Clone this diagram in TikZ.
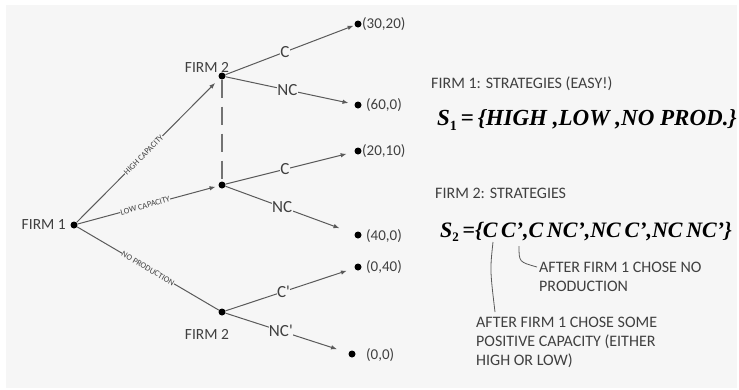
\documentclass[tikz,border=0pt]{standalone}
\usepackage{fontspec}
\setmainfont{Carlito}
\newfontfamily\eqfont{Liberation Serif}
\usetikzlibrary{arrows.meta}
\definecolor{bg}{HTML}{F6F6F6}
\definecolor{ln}{HTML}{5A5A5A}
\definecolor{tx}{HTML}{404040}
\tikzset{
  dotnode/.style={circle,fill=black,inner sep=0pt,minimum size=7pt},
  move/.style={draw=ln,line width=1pt,-{Latex[length=6pt,width=4.5pt]}},
  plain/.style={draw=ln,line width=1pt},
  mlabel/.style={fill=bg,inner sep=0.3pt,font=\fontsize{17}{17}\selectfont,text=tx},
  slabel/.style={fill=bg,inner sep=0.3pt,sloped,font=\fontsize{8.4}{8.4}\selectfont,text=tx},
  firm/.style={font=\fontsize{15.5}{15.5}\selectfont,text=tx},
  head/.style={font=\fontsize{16}{16}\selectfont,text=tx,anchor=west,inner sep=0pt},
  pay/.style={font=\fontsize{15}{15}\selectfont,text=tx,anchor=west,inner sep=0pt},
  note/.style={font=\fontsize{16}{19}\selectfont,text=tx,align=left,inner sep=0pt},
  eq/.style={font=\eqfont\bfseries\itshape\fontsize{#1}{#1}\selectfont,text=black,anchor=west,inner sep=0pt}
}
\begin{document}
\begin{tikzpicture}[x=1pt,y=-1pt]
\useasboundingbox (0,0) rectangle (739,389);
\fill[white] (0,0) rectangle (739,389);
\fill[bg] (6,5) rectangle (737,388);
% decision nodes
\node[dotnode] (f1) at (74,225) {};
\node[dotnode] (f2a) at (222,76) {};
\node[dotnode] (f2b) at (222,185) {};
\node[dotnode] (f2c) at (222,312) {};
% terminal nodes
\node[dotnode] (t1) at (358,24) {};
\node[dotnode] (t2) at (358,105) {};
\node[dotnode] (t3) at (358,151) {};
\node[dotnode] (t4) at (358,235) {};
\node[dotnode] (t5) at (358,267) {};
\node[dotnode] (t6) at (352,354) {};
\node[pay] (p1) at (362,24) {(30,20)};
\node[pay] (p2) at (366,105) {(60,0)};
\node[pay] (p3) at (362,151) {(20,10)};
\node[pay] (p4) at (366,236) {(40,0)};
\node[pay] (p5) at (366,267) {(0,40)};
\node[pay] (p6) at (366,355) {(0,0)};
% firm labels
\node[firm,anchor=east,inner sep=0pt] (l1) at (66,225) {FIRM 1};
\node[firm] (l2) at (207,67) {FIRM 2};
\node[firm] (l3) at (207,334) {FIRM 2};
% information set
\draw[ln!85,line width=1.2pt,dash pattern=on 18pt off 9pt] (f2a) -- (f2b);
% firm 1 moves
\draw[move,shorten >=6pt] (f1) -- node[slabel,pos=0.47] {HIGH CAPACITY} (f2a);
\draw[move,shorten >=3pt] (f1) -- node[slabel,pos=0.48] {LOW CAPACITY} (f2b);
\draw[plain] (f1) -- node[slabel,pos=0.5] {NO PRODUCTION} (f2c);
% firm 2 moves
\draw[move,shorten >=1pt] (f2a) -- node[mlabel,pos=0.46] {C} (t1);
\draw[move,shorten >=6pt] (f2a) -- node[mlabel,pos=0.48] {NC} (t2);
\draw[move,shorten >=8pt] (f2b) -- node[mlabel,pos=0.46] {C} (t3);
\draw[move,shorten >=16pt] (f2b) -- node[mlabel,pos=0.44] {NC} (t4);
\draw[move,shorten >=8pt] (f2c) -- node[mlabel,pos=0.45] {C\textquotesingle} (t5);
\draw[move,shorten >=12pt] (f2c) -- node[mlabel,pos=0.45] {NC\textquotesingle} (t6);
% right side
\node[head] (h1) at (431,84) {FIRM 1: STRATEGIES (EASY!)};
\node[eq=23] (e1) at (437,120) {S\raisebox{-0.2em}{\upshape\fontsize{14}{14}\selectfont 1}\,{\upshape =}\,\{HIGH ,LOW ,NO PROD.\}};
\node[head] (h2) at (435,193) {FIRM 2: STRATEGIES};
\node[eq=22] (e2) at (440,232) {S\raisebox{-0.2em}{\upshape\fontsize{13}{13}\selectfont 2}\,{\upshape =}\{C\,C’,C\,NC’,NC\,C’,NC\,NC’\}};
\coordinate (a1) at (493,242);
\coordinate (a2) at (495,312);
\coordinate (b1) at (519,246);
\coordinate (b2) at (537,267);
\draw[plain,line width=0.8pt] (a1) .. controls (490,270) .. (a2);
\draw[plain,line width=0.8pt] (b1) .. controls (519,262) .. (b2);
\node[note,anchor=north west] (n1) at (539,262) {AFTER FIRM 1 CHOSE NO\\PRODUCTION};
\node[note,anchor=north west] (n2) at (476,317) {AFTER FIRM 1 CHOSE SOME\\POSITIVE CAPACITY (EITHER\\HIGH OR LOW)};
\end{tikzpicture}
\end{document}
